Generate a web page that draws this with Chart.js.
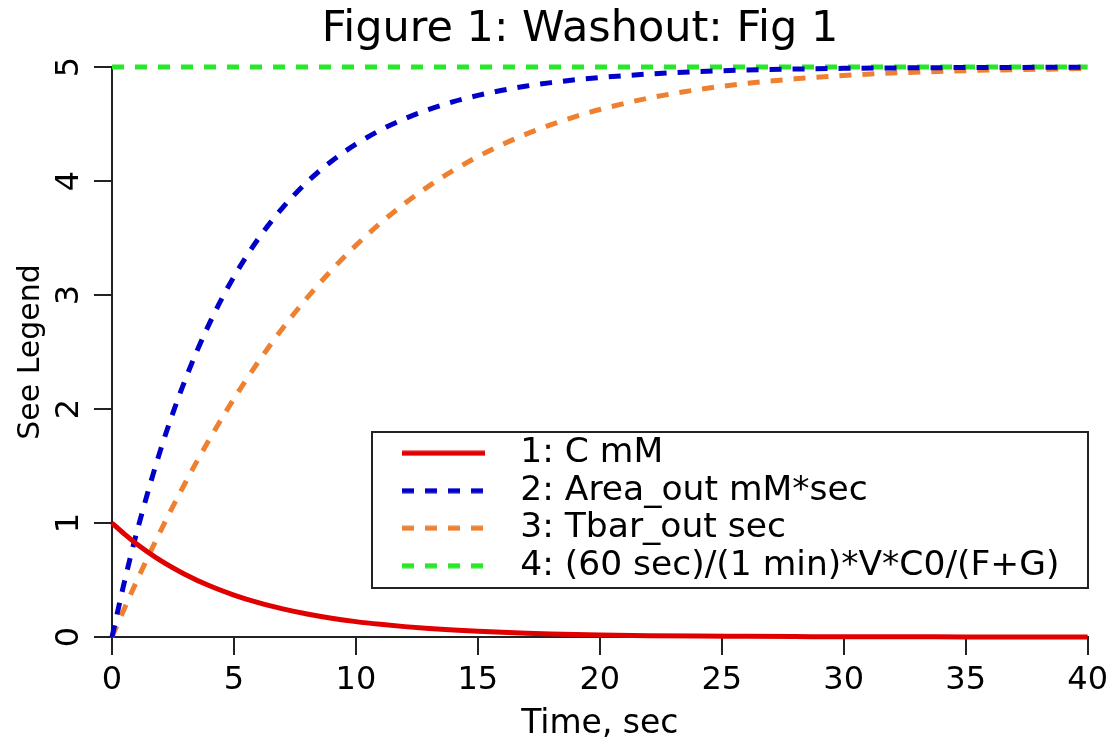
<!DOCTYPE html>
<html>
<head>
<meta charset="utf-8">
<style>
  html, body { margin: 0; padding: 0; background: #ffffff; }
  #wrap { width: 1114px; height: 744px; }
</style>
<script src="https://cdn.jsdelivr.net/npm/chart.js@4.4.1/dist/chart.umd.min.js"></script>
</head>
<body>
<div id="wrap"><canvas id="c" width="1114" height="744"></canvas></div>
<script>
// ---- data ----
const chartTitle = 'Figure 1: Washout: Fig 1';
const xAxisTitle = 'Time, sec';
const yAxisTitle = 'See Legend';
const seriesNames = ['1: C mM', '2: Area_out mM*sec', '3: Tbar_out sec', '4: (60 sec)/(1 min)*V*C0/(F+G)'];
const xTicksStep = 5;
const yTicksStep = 1;

const timeValues = [0, 0.5, 1, 2, 3, 4, 5, 6, 7, 8, 9, 10, 11, 12, 13, 14, 15, 16, 17, 18, 19, 20, 22, 24, 26, 28, 30, 32, 35, 40];
const cValues    = [1.000, 0.905, 0.819, 0.670, 0.549, 0.449, 0.368, 0.301, 0.247, 0.202, 0.165, 0.135, 0.111, 0.091, 0.074, 0.061, 0.050, 0.041, 0.033, 0.027, 0.022, 0.018, 0.012, 0.008, 0.006, 0.004, 0.002, 0.002, 0.001, 0.000];
const areaValues = [0, 0.476, 0.906, 1.648, 2.256, 2.753, 3.161, 3.494, 3.767, 3.991, 4.174, 4.323, 4.446, 4.546, 4.629, 4.696, 4.751, 4.796, 4.833, 4.863, 4.888, 4.908, 4.938, 4.959, 4.973, 4.982, 4.988, 4.992, 4.995, 4.998];
const tbarValues = [0, 0.246, 0.484, 0.934, 1.351, 1.736, 2.090, 2.414, 2.709, 2.976, 3.218, 3.435, 3.629, 3.803, 3.957, 4.093, 4.214, 4.320, 4.413, 4.494, 4.565, 4.627, 4.727, 4.801, 4.856, 4.896, 4.926, 4.947, 4.968, 4.987];
const refTimes   = [0, 40];
const refValues  = [5, 5];

// ---- helpers ----
function pts(xs, ys) { return xs.map((x, i) => ({ x: x, y: ys[i] })); }
const FONT = 'DejaVu Sans';
const AXIS_COLOR = '#222222';
const DASH = [12, 11];

// legend glyph: a short line sample in the dataset's colour and dash
function legendGlyph(color, dash) {
  const cv = document.createElement('canvas');
  cv.width = 83; cv.height = 6;
  const g = cv.getContext('2d');
  g.strokeStyle = color;
  g.lineWidth = 5;
  g.setLineDash(dash);
  g.beginPath();
  g.moveTo(0, 3); g.lineTo(83, 3);
  g.stroke();
  return cv;
}

const decorPlugin = {
  id: 'decor',
  afterLayout(chart) {
    const lg = chart.legend;
    if (lg) {
      lg.left = 381; lg.top = 433; lg.right = 1087; lg.bottom = 600;
      lg.width = lg.right - lg.left; lg.height = lg.bottom - lg.top;
    }
  },
  afterDraw(chart) {
    const ctx = chart.ctx;
    ctx.save();
    // legend frame
    ctx.strokeStyle = AXIS_COLOR;
    ctx.lineWidth = 2;
    ctx.strokeRect(372, 432, 716, 156);
    // chart title
    ctx.fillStyle = '#000000';
    ctx.font = '43px "' + FONT + '"';
    ctx.textAlign = 'center';
    ctx.textBaseline = 'alphabetic';
    ctx.fillText(chartTitle, 580, 41);
    ctx.restore();
  }
};

new Chart(document.getElementById('c'), {
  type: 'line',
  data: {
    datasets: [
      { label: seriesNames[0], data: pts(timeValues, cValues), borderColor: '#e00000', backgroundColor: '#e00000', borderWidth: 5, pointRadius: 0, cubicInterpolationMode: 'monotone', clip: 4 },
      { label: seriesNames[1], data: pts(timeValues, areaValues), borderColor: '#0000c8', backgroundColor: '#0000c8', borderWidth: 5, borderDash: DASH, pointRadius: 0, cubicInterpolationMode: 'monotone', clip: 4 },
      { label: seriesNames[2], data: pts(timeValues, tbarValues), borderColor: '#ee8030', backgroundColor: '#ee8030', borderWidth: 5, borderDash: DASH, pointRadius: 0, cubicInterpolationMode: 'monotone', clip: 4 },
      { label: seriesNames[3], data: pts(refTimes, refValues), borderColor: '#28e628', backgroundColor: '#28e628', borderWidth: 5, borderDash: DASH, pointRadius: 0, clip: 4 }
    ]
  },
  options: {
    responsive: false,
    animation: false,
    devicePixelRatio: 1,
    events: [],
    layout: { padding: { top: 67, right: 24, bottom: 0, left: 0 } },
    scales: {
      x: {
        type: 'linear', min: 0, max: 40,
        ticks: { stepSize: xTicksStep, color: '#000', font: { family: FONT, size: 32 }, padding: 6, maxRotation: 0, minRotation: 0 },
        grid: { drawOnChartArea: false, drawTicks: true, tickLength: 18, color: AXIS_COLOR, lineWidth: 2 },
        border: { display: true, color: AXIS_COLOR, width: 2 },
        title: { display: true, text: xAxisTitle, color: '#000', font: { family: FONT, size: 33 }, padding: { top: 0, bottom: 0 } },
        afterFit(s) { s.height = 107; }
      },
      y: {
        type: 'linear', min: 0, max: 5,
        ticks: { stepSize: yTicksStep, color: '#000', font: { family: FONT, size: 32 }, padding: 14, minRotation: 90, maxRotation: 90, crossAlign: 'center' },
        grid: { drawOnChartArea: false, drawTicks: true, tickLength: 18, color: AXIS_COLOR, lineWidth: 2 },
        border: { display: true, color: AXIS_COLOR, width: 2 },
        title: { display: true, text: yAxisTitle, color: '#000', font: { family: FONT, size: 30 }, padding: { top: 13, bottom: 0 } },
        afterFit(s) { s.width = 112; }
      }
    },
    plugins: {
      title: { display: false },
      tooltip: { enabled: false },
      legend: {
        display: true,
        position: 'chartArea',
        align: 'start',
        labels: {
          usePointStyle: true,
          pointStyleWidth: 119,
          boxHeight: 20,
          padding: 3,
          color: '#000',
          font: { family: FONT, size: 34.5 },
          generateLabels(chart) {
            const items = Chart.defaults.plugins.legend.labels.generateLabels(chart);
            items.forEach(it => {
              const ds = chart.data.datasets[it.datasetIndex];
              it.pointStyle = legendGlyph(ds.borderColor, ds.borderDash ? DASH : []);
              it.lineDash = [];
            });
            return items;
          }
        }
      }
    }
  },
  plugins: [decorPlugin]
});
</script>
</body>
</html>
